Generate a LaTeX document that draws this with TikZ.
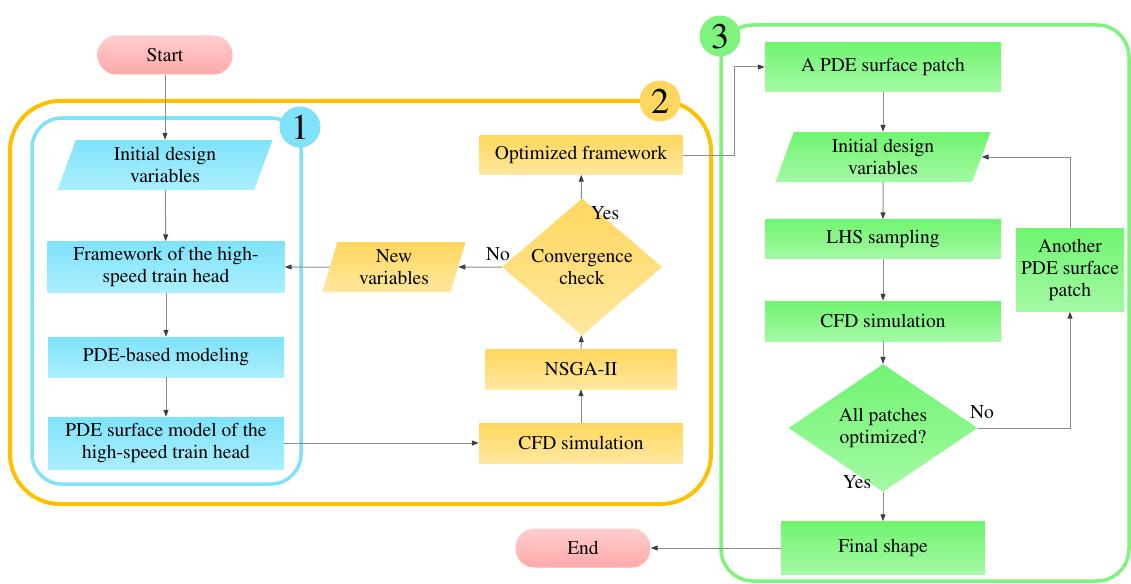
\documentclass[tikz,border=0pt]{standalone}
\usepackage[T1]{fontenc}
\usepackage{mathptmx}
\usetikzlibrary{arrows.meta,positioning,shapes.geometric}

\definecolor{cyanT}{HTML}{7FE2FB}
\definecolor{cyanB}{HTML}{AAEFFE}
\definecolor{oraT}{HTML}{FFD75E}
\definecolor{oraB}{HTML}{FFE79E}
\definecolor{grnT}{HTML}{70F470}
\definecolor{grnB}{HTML}{A4F9A4}
\definecolor{pinkT}{HTML}{FFCDCD}
\definecolor{pinkB}{HTML}{FFA9A9}
\definecolor{cyanF}{HTML}{80E2FA}
\definecolor{oraF}{HTML}{FFC000}
\definecolor{grnF}{HTML}{7EF47E}
\definecolor{lineg}{HTML}{8C8C8C}
\definecolor{tipg}{HTML}{3F3F3F}

\begin{document}
\begin{tikzpicture}[
  x=1pt, y=-1pt,
  font=\fontsize{19.5}{22}\selectfont,
  box/.style={align=center, inner sep=2pt},
  cbox/.style={box, top color=cyanT, bottom color=cyanB},
  obox/.style={box, top color=oraT, bottom color=oraB},
  gbox/.style={box, top color=grnT, bottom color=grnB},
  io/.style={trapezium, trapezium left angle=64, trapezium right angle=116,
    trapezium stretches body, align=center, inner sep=1pt},
  decision/.style={diamond, align=center, inner sep=0pt},
  term/.style={box, rounded corners=19pt, top color=pinkT, bottom color=pinkB,
    minimum width=135pt, minimum height=39pt},
  frame/.style={line width=3.5pt},
  badge/.style={circle, inner sep=0pt, minimum size=41pt,
    font=\fontsize{36}{36}\selectfont},
  arr/.style={-{Triangle[length=7pt,width=5pt,color=tipg]}, draw=lineg, line width=1pt}
]
\useasboundingbox (0,0) rectangle (1131,583);

% Frames of the three stages
\draw[frame, draw=oraF, line width=4pt, rounded corners=50pt] (10,101) rectangle (711,504);
\draw[frame, draw=cyanF, rounded corners=30pt] (32,118) rectangle (301,484);
\draw[frame, draw=grnF, rounded corners=32pt] (721,25) rectangle (1129,581);

% Stage numbers
\node[badge, fill=cyanF] (b1) at (300,127) {1};
\node[badge, fill=oraT] (b2) at (660,101) {2};
\node[badge, fill=grnF] (b3) at (720,36) {3};

% Start and end
\node[term] (start) at (165,55) {Start};
\node[term] (end) at (583,548) {End};

% Stage 1: modeling
\node[io, top color=cyanT, bottom color=cyanB, minimum width=215pt, minimum height=50pt] (iniA) at (165,165) {Initial design\\variables};
\node[cbox, minimum width=237pt, minimum height=51pt] (frmw) at (166,267) {Framework of the high-\\speed train head};
\node[cbox, minimum width=236pt, minimum height=40pt] (pdemod) at (166,357) {PDE-based modeling};
\node[cbox, minimum width=236pt, minimum height=52pt] (pdesurf) at (166,443) {PDE surface model of the\\high-speed train head};

% Stage 2: framework optimization
\node[obox, minimum width=204pt, minimum height=40pt] (cfdA) at (581,443) {CFD simulation};
\node[obox, minimum width=191pt, minimum height=40pt] (nsga) at (581,369) {NSGA-II};
\node[decision, top color=oraT, bottom color=oraB, minimum width=160pt, minimum height=97pt] (conv) at (582,267) {Convergence\\check};
\node[io, trapezium left angle=68, trapezium right angle=112, top color=oraT, bottom color=oraB, minimum width=143pt, minimum height=50pt] (newvar) at (394,267) {New\\variables};
\node[obox, minimum width=203pt, minimum height=39pt] (optfw) at (581,155) {Optimized framework};

% Stage 3: patch optimization
\node[gbox, minimum width=236pt, minimum height=49pt] (patch) at (883,67) {A PDE surface patch};
\node[io, top color=grnT, bottom color=grnB, minimum width=215pt, minimum height=50pt] (iniB) at (883,157) {Initial design\\variables};
\node[gbox, minimum width=236pt, minimum height=39pt] (lhs) at (883,239) {LHS sampling};
\node[gbox, minimum width=236pt, minimum height=40pt] (cfdB) at (883,321) {CFD simulation};
\node[decision, top color=grnT, bottom color=grnB, minimum width=189pt, minimum height=95pt] (allp) at (883,428) {All patches\\optimized?};
\node[gbox, minimum width=204pt, minimum height=53pt] (final) at (883,548) {Final shape};
\node[gbox, minimum width=108pt, minimum height=83pt] (another) at (1070,270) {Another\\PDE surface\\patch};

% Branch labels
\node (yesA) at (605,213) {Yes};
\node (noA) at (498,254) {No};
\node (noB) at (982,412) {No};
\node (yesB) at (857,482) {Yes};

% Arrows
\draw[arr] (start) -- (iniA);
\draw[arr] (iniA) -- (frmw);
\draw[arr] (frmw) -- (pdemod);
\draw[arr] (pdemod) -- (pdesurf);
\draw[arr] (pdesurf.east) -- (cfdA.west);
\draw[arr] (cfdA) -- (nsga);
\draw[arr] (nsga) -- (conv);
\draw[arr] (conv) -- (optfw);
\draw[arr] (conv.west) -- (newvar.east);
\draw[arr] (newvar.west) -- (frmw.east);
\draw[arr] (optfw.east) -- ++(52,0) |- (patch.west);
\draw[arr] (patch) -- (iniB);
\draw[arr] (iniB) -- (lhs);
\draw[arr] (lhs) -- (cfdB);
\draw[arr] (cfdB) -- (allp);
\draw[arr] (allp) -- (final);
\draw[arr] (allp.east) -| (another.south);
\draw[arr] (another.north) |- (iniB.east);
\draw[arr] (final.west) -- (end.east);

\end{tikzpicture}
\end{document}
